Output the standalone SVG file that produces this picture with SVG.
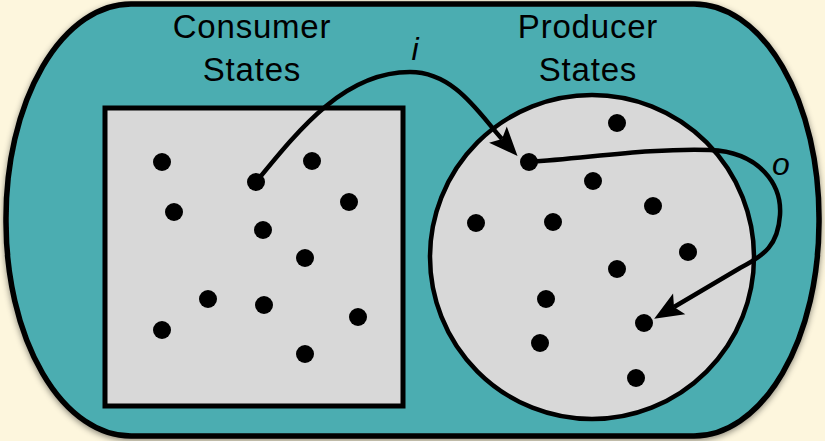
<svg xmlns="http://www.w3.org/2000/svg" width="825" height="441" viewBox="0 0 825 441">
<defs>
<style>
.lbl{font-family:"Liberation Sans",Arial,sans-serif;font-size:33px;fill:#000;text-anchor:middle;letter-spacing:0.8px}
.it{font-family:"Liberation Sans",Arial,sans-serif;font-size:32px;font-style:italic;fill:#000;text-anchor:middle}
.dot{fill:#000}
.conn{fill:none;stroke:#000;stroke-width:4.5;marker-end:url(#ah)}
</style>
<filter id="sh" x="-5%" y="-5%" width="110%" height="115%">
<feDropShadow dx="0" dy="2" stdDeviation="3" flood-color="#000" flood-opacity="0.45"/>
</filter>
<marker id="ah" markerUnits="userSpaceOnUse" markerWidth="32" markerHeight="26" viewBox="0 0 32 26" refX="6" refY="12" orient="auto" overflow="visible">
<path d="M0,0 L29,12 L0,24 L6,12 z" fill="#000"/>
</marker>
</defs>
<rect width="825" height="441" fill="#FDF6DD"/>
<g id="universe">
<rect x="6" y="4" width="813" height="432" rx="125" ry="214" fill="#4BADB1" stroke="#000" stroke-width="5.5" filter="url(#sh)"/>
</g>
<g id="consumer">
<rect x="105" y="108" width="298" height="298" fill="#D8D8D8" stroke="#000" stroke-width="5"/>
<text class="lbl" x="252" y="38">Consumer</text>
<text class="lbl" x="252" y="81">States</text>
<circle class="dot" cx="162" cy="162" r="9"/>
<circle class="dot" cx="256" cy="182" r="9"/>
<circle class="dot" cx="312" cy="161" r="9"/>
<circle class="dot" cx="349" cy="202" r="9"/>
<circle class="dot" cx="174" cy="212" r="9"/>
<circle class="dot" cx="263" cy="230" r="9"/>
<circle class="dot" cx="305" cy="258" r="9"/>
<circle class="dot" cx="208" cy="299" r="9"/>
<circle class="dot" cx="264" cy="305" r="9"/>
<circle class="dot" cx="358" cy="317" r="9"/>
<circle class="dot" cx="162" cy="330" r="9"/>
<circle class="dot" cx="305" cy="354" r="9"/>
</g>
<g id="producer">
<circle cx="592" cy="257" r="162" fill="#D8D8D8" stroke="#000" stroke-width="4.5"/>
<text class="lbl" x="588" y="38">Producer</text>
<text class="lbl" x="588" y="81">States</text>
<circle class="dot" cx="617" cy="123" r="9"/>
<circle class="dot" cx="529" cy="162" r="9"/>
<circle class="dot" cx="593" cy="181" r="9"/>
<circle class="dot" cx="653" cy="206" r="9"/>
<circle class="dot" cx="476" cy="223" r="9"/>
<circle class="dot" cx="553" cy="222" r="9"/>
<circle class="dot" cx="688" cy="252" r="9"/>
<circle class="dot" cx="617" cy="269" r="9"/>
<circle class="dot" cx="546" cy="299" r="9"/>
<circle class="dot" cx="644" cy="323" r="9"/>
<circle class="dot" cx="540" cy="343" r="9"/>
<circle class="dot" cx="636" cy="378" r="9"/>
</g>
<g id="connectors">
<path class="conn" d="M256,182 C300,128 345,72 410,72 C455,72 480,115 502,139"/>
<text class="it" x="415" y="60">i</text>
<path class="conn" d="M529,162 C590,158 650,148 710,150 C760,152 782,185 780,215 C778,245 765,255 740,268 L674,307"/>
<text class="it" x="781" y="175">o</text>
</g>
</svg>
